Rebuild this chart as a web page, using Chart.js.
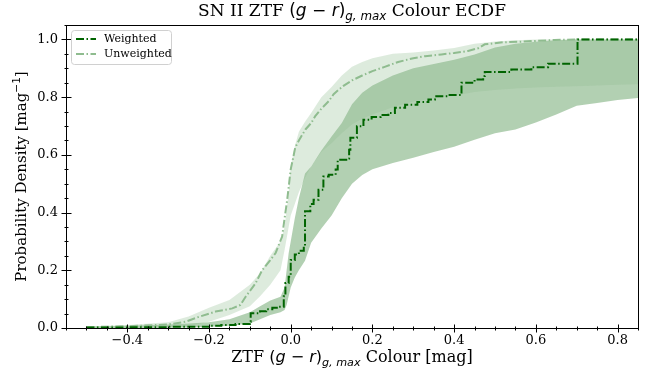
<!DOCTYPE html>
<html>
<head>
<meta charset="utf-8">
<script src="https://cdn.jsdelivr.net/npm/chart.js@4"></script>
<style>
  html, body { margin: 0; padding: 0; background: #fff; }
</style>
</head>
<body>
<canvas id="ecdf" width="645" height="378"></canvas>
<script>
// step points of the two ECDFs
const weightedX = [-0.5, -0.4, -0.3, -0.2, -0.17, -0.135, -0.1, -0.098, -0.075, -0.06, -0.045, -0.029, -0.017, -0.013, -0.005, 0.0, 0.01, 0.02, 0.032, 0.035, 0.048, 0.056, 0.068, 0.08, 0.093, 0.11, 0.115, 0.141, 0.143, 0.146, 0.162, 0.178, 0.198, 0.22, 0.239, 0.255, 0.28, 0.31, 0.337, 0.353, 0.385, 0.418, 0.45, 0.471, 0.475, 0.54, 0.589, 0.63, 0.702, 0.85];
const weightedY = [0.002, 0.003, 0.004, 0.008, 0.01, 0.014, 0.022, 0.051, 0.058, 0.065, 0.07, 0.074, 0.11, 0.156, 0.178, 0.236, 0.255, 0.268, 0.285, 0.405, 0.43, 0.444, 0.479, 0.525, 0.531, 0.549, 0.583, 0.587, 0.618, 0.659, 0.699, 0.722, 0.731, 0.738, 0.745, 0.763, 0.774, 0.783, 0.792, 0.803, 0.807, 0.85, 0.861, 0.873, 0.887, 0.896, 0.904, 0.916, 1.0, 1.0];

const unweightedX = [-0.5, -0.4, -0.3, -0.257, -0.224, -0.184, -0.143, -0.123, -0.11, -0.086, -0.07, -0.05, -0.037, -0.021, -0.015, -0.009, -0.004, 0.0, 0.006, 0.011, 0.02, 0.036, 0.05, 0.06, 0.075, 0.093, 0.105, 0.117, 0.13, 0.15, 0.175, 0.2, 0.23, 0.263, 0.3, 0.329, 0.369, 0.4, 0.434, 0.46, 0.475, 0.52, 0.56, 0.6, 0.646, 0.7, 0.85];
const unweightedY = [0.003, 0.006, 0.012, 0.022, 0.039, 0.057, 0.068, 0.08, 0.109, 0.155, 0.2, 0.235, 0.26, 0.317, 0.38, 0.44, 0.5, 0.55, 0.59, 0.625, 0.65, 0.688, 0.71, 0.734, 0.76, 0.786, 0.81, 0.825, 0.84, 0.858, 0.875, 0.89, 0.905, 0.922, 0.935, 0.942, 0.948, 0.953, 0.96, 0.97, 0.983, 0.99, 0.992, 0.995, 0.998, 1.0, 1.0];

// confidence bands on a shared x grid
const bandX = [-0.5, -0.4, -0.3, -0.25, -0.2, -0.15, -0.1, -0.075, -0.05, -0.025, -0.015, -0.01, -0.005, 0, 0.01, 0.02, 0.035, 0.05, 0.075, 0.1, 0.125, 0.15, 0.175, 0.2, 0.25, 0.3, 0.35, 0.4, 0.45, 0.5, 0.55, 0.6, 0.65, 0.7, 0.75, 0.8, 0.85];
const weightedLo = [0, 0, 0.001, 0.002, 0.004, 0.008, 0.016, 0.03, 0.045, 0.055, 0.062, 0.08, 0.11, 0.14, 0.175, 0.2, 0.233, 0.295, 0.345, 0.39, 0.45, 0.5, 0.53, 0.55, 0.572, 0.59, 0.61, 0.628, 0.652, 0.675, 0.688, 0.712, 0.74, 0.77, 0.78, 0.79, 0.797];
const weightedHi = [0.005, 0.008, 0.012, 0.016, 0.02, 0.03, 0.055, 0.075, 0.095, 0.108, 0.14, 0.2, 0.26, 0.3, 0.38, 0.45, 0.535, 0.56, 0.615, 0.664, 0.71, 0.775, 0.815, 0.84, 0.875, 0.9, 0.915, 0.93, 0.948, 0.972, 0.985, 0.992, 0.997, 1.0, 1.0, 1.0, 1.0];
const unweightedLo = [0, 0, 0.002, 0.006, 0.022, 0.045, 0.075, 0.11, 0.15, 0.2, 0.27, 0.31, 0.35, 0.39, 0.43, 0.47, 0.52, 0.56, 0.61, 0.64, 0.675, 0.705, 0.725, 0.74, 0.765, 0.785, 0.795, 0.805, 0.818, 0.825, 0.83, 0.833, 0.836, 0.838, 0.84, 0.843, 0.845];
const unweightedHi = [0.005, 0.01, 0.02, 0.04, 0.07, 0.097, 0.15, 0.19, 0.25, 0.3, 0.35, 0.41, 0.47, 0.56, 0.63, 0.68, 0.715, 0.745, 0.8, 0.835, 0.875, 0.905, 0.922, 0.935, 0.95, 0.955, 0.962, 0.97, 0.985, 0.993, 0.997, 1.0, 1.0, 1.0, 1.0, 1.0, 1.0];

const xTicks = [-0.4, -0.2, 0.0, 0.2, 0.4, 0.6, 0.8];
const yTicks = [0.0, 0.2, 0.4, 0.6, 0.8, 1.0];
const seriesLabels = ["Weighted", "Unweighted"];

const DARK = "#006400";
const LIGHT = "#8fbc8f";
const SERIF = "'DejaVu Serif', serif";
const SANS = "'DejaVu Sans', sans-serif";
const DASHDOT = [8, 2.5, 1.5, 2.5];

function pts(xs, ys) {
  return xs.map((x, i) => ({ x: x, y: ys[i] }));
}

function fmt(v) {
  return v.toFixed(1).replace("-", "\u2212");
}

// draws a line of text made of pieces (serif text, math italic, sub/superscripts)
function drawRich(ctx, parts, cx, cy, size, rotate) {
  const fontOf = p => (p.it ? "italic " : "") + (size * (p.scale || 1)) + "px " + (p.math ? SANS : SERIF);
  ctx.save();
  let total = 0;
  const widths = parts.map(p => {
    ctx.font = fontOf(p);
    const w = ctx.measureText(p.t).width;
    total += w;
    return w;
  });
  ctx.translate(cx, cy);
  if (rotate) ctx.rotate(-Math.PI / 2);
  ctx.textBaseline = "middle";
  ctx.fillStyle = "#000";
  let x = -total / 2;
  parts.forEach((p, i) => {
    ctx.font = fontOf(p);
    ctx.fillText(p.t, x, (p.dy || 0) * size);
    x += widths[i];
  });
  ctx.restore();
}

const gr = [
  { t: "(", math: 1 }, { t: "g", math: 1, it: 1 }, { t: " \u2212 ", math: 1 }, { t: "r", math: 1, it: 1 },
  { t: ")", math: 1 }, { t: "g, max", math: 1, it: 1, scale: 0.7, dy: 0.3 }
];

const decorations = {
  id: "decorations",
  afterDraw(chart) {
    const ctx = chart.ctx;
    const a = chart.chartArea;
    const xs = chart.scales.x;
    const ys = chart.scales.y;
    ctx.save();
    ctx.strokeStyle = "#000";
    ctx.lineWidth = 1;
    ctx.strokeRect(Math.round(a.left) + 0.5, Math.round(a.top) + 0.5,
      Math.round(a.right - a.left), Math.round(a.bottom - a.top));

    const bottom = Math.round(a.bottom) + 0.5;
    const left = Math.round(a.left) + 0.5;
    ctx.beginPath();
    for (let v = -0.55; v <= 0.851; v += 0.05) {
      const px = Math.round(xs.getPixelForValue(v)) + 0.5;
      ctx.moveTo(px, bottom - 2); ctx.lineTo(px, bottom + 2);
    }
    for (let v = 0; v <= 1.051; v += 0.05) {
      const py = Math.round(ys.getPixelForValue(v)) + 0.5;
      ctx.moveTo(left - 2, py); ctx.lineTo(left + 2, py);
    }
    xTicks.forEach(v => {
      const px = Math.round(xs.getPixelForValue(v)) + 0.5;
      ctx.moveTo(px, bottom - 4); ctx.lineTo(px, bottom + 4);
    });
    yTicks.forEach(v => {
      const py = Math.round(ys.getPixelForValue(v)) + 0.5;
      ctx.moveTo(left - 5, py); ctx.lineTo(left + 5, py);
    });
    ctx.stroke();

    // title and axis labels
    drawRich(ctx, [{ t: "SN II ZTF " }].concat(gr, [{ t: " Colour ECDF" }]), (a.left + a.right) / 2, 12, 17);
    drawRich(ctx, [{ t: "ZTF " }].concat(gr, [{ t: " Colour [mag]" }]), (a.left + a.right) / 2, 358, 16);
    drawRich(ctx, [{ t: "Probability Density [mag" }, { t: "\u22121", math: 1, scale: 0.7, dy: -0.3 }, { t: "]" }],
      22, (a.top + a.bottom) / 2, 15, true);

    // legend
    const lx = 71.5, ly = 30.5, lw = 100, lh = 34;
    ctx.beginPath();
    ctx.roundRect(lx, ly, lw, lh, 3);
    ctx.fillStyle = "rgba(255,255,255,0.8)";
    ctx.fill();
    ctx.strokeStyle = "#d0d0d0";
    ctx.stroke();
    [DARK, LIGHT].forEach((c, i) => {
      const y = 39 + i * 15;
      ctx.beginPath();
      ctx.setLineDash(DASHDOT);
      ctx.strokeStyle = c;
      ctx.lineWidth = 2;
      ctx.moveTo(76, y); ctx.lineTo(96, y);
      ctx.stroke();
      ctx.setLineDash([]);
      ctx.fillStyle = "#000";
      ctx.font = "11px " + SERIF;
      ctx.textBaseline = "middle";
      ctx.fillText(seriesLabels[i], 104, y);
    });
    ctx.restore();
  }
};

new Chart(document.getElementById("ecdf"), {
  type: "line",
  data: {
    datasets: [
      { label: seriesLabels[0], data: pts(weightedX, weightedY), stepped: true, borderColor: DARK, borderWidth: 2, borderDash: DASHDOT, fill: false, order: 0 },
      { label: seriesLabels[1], data: pts(unweightedX, unweightedY), borderColor: LIGHT, borderWidth: 2, borderDash: DASHDOT, fill: false, order: 1 },
      { label: "u hi", data: pts(bandX, unweightedHi), borderColor: "transparent", borderWidth: 0, backgroundColor: "rgba(143,188,143,0.3)", fill: 3, order: 2 },
      { label: "u lo", data: pts(bandX, unweightedLo), borderColor: "transparent", borderWidth: 0, fill: false, order: 3 },
      { label: "w hi", data: pts(bandX, weightedHi), borderColor: "transparent", borderWidth: 0, backgroundColor: "rgba(0,100,0,0.3)", fill: 5, order: 4 },
      { label: "w lo", data: pts(bandX, weightedLo), borderColor: "transparent", borderWidth: 0, fill: false, order: 5 }
    ]
  },
  options: {
    responsive: false,
    animation: false,
    layout: { padding: { top: 25, right: 7, left: 0, bottom: 0 } },
    elements: { point: { radius: 0 }, line: { tension: 0 } },
    plugins: { legend: { display: false }, title: { display: false }, tooltip: { enabled: false } },
    scales: {
      x: {
        type: "linear", min: -0.55, max: 0.85,
        afterFit: s => { s.height = 50; },
        afterBuildTicks: s => { s.ticks = xTicks.map(v => ({ value: v })); },
        grid: { display: false, drawTicks: false },
        border: { display: false },
        ticks: { padding: 5, color: "#000", font: { family: "DejaVu Serif", size: 13 }, maxRotation: 0, autoSkip: false, callback: v => fmt(v) }
      },
      y: {
        type: "linear", min: 0, max: 1.05,
        afterFit: s => { s.width = 66; },
        afterBuildTicks: s => { s.ticks = yTicks.map(v => ({ value: v })); },
        grid: { display: false, drawTicks: false },
        border: { display: false },
        ticks: { padding: 8, color: "#000", font: { family: "DejaVu Serif", size: 13 }, autoSkip: false, callback: v => fmt(v) }
      }
    }
  },
  plugins: [decorations]
});
</script>
</body>
</html>
